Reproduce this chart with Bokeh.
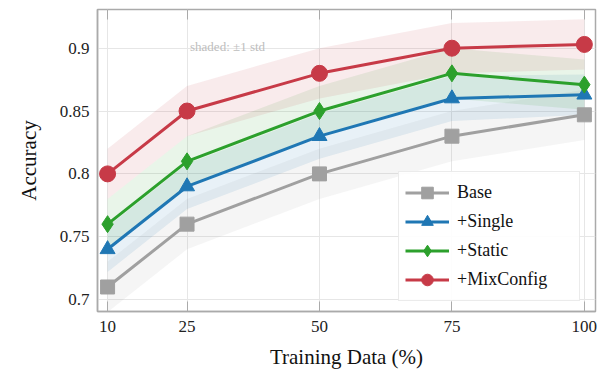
from bokeh.plotting import figure
from bokeh.models import (FixedTicker, Legend, LegendItem, LinearAxis, Range1d,
                          ColumnDataSource, Label)
from bokeh.embed import file_html
from bokeh.resources import INLINE

x_pct = [10, 25, 50, 75, 100]
base = [0.710, 0.760, 0.800, 0.830, 0.847]
single = [0.740, 0.790, 0.830, 0.860, 0.863]
static = [0.760, 0.810, 0.850, 0.880, 0.871]
mixconfig = [0.800, 0.850, 0.880, 0.900, 0.903]
base_std = [0.020, 0.020, 0.020, 0.020, 0.020]
single_std = [0.018, 0.018, 0.018, 0.018, 0.016]
static_std = [0.020, 0.020, 0.020, 0.020, 0.020]
mix_std = [0.020, 0.020, 0.020, 0.020, 0.020]
labels = ["Base", "+Single", "+Static", "+MixConfig"]
y_ticks = [0.7, 0.75, 0.8, 0.85, 0.9]

FONT = "'Liberation Serif', serif"
FONT2 = '"Liberation Serif"'
series = [
    (labels[0], base, base_std, "#a0a0a0", "square", 14),
    (labels[1], single, single_std, "#1f77b4", "triangle", 15),
    (labels[2], static, static_std, "#2ca02c", "diamond", 17),
    (labels[3], mixconfig, mix_std, "#c73a47", "circle", 16),
]

p = figure(width=600, height=371, output_backend="svg", toolbar_location=None,
           x_range=Range1d(8.1, 102.1), y_range=Range1d(0.6905, 0.9308),
           min_border_left=97, min_border_right=5, min_border_top=9,
           min_border_bottom=58)

p.background_fill_color = "white"
p.outline_line_color = "#aaaaaa"
p.outline_line_width = 1.5

p.xaxis.ticker = FixedTicker(ticks=x_pct)
p.yaxis.ticker = FixedTicker(ticks=y_ticks)
p.xaxis.major_label_overrides = {v: str(v) for v in x_pct}
p.yaxis.major_label_overrides = {0.7: "0.7", 0.75: "0.75", 0.8: "0.8", 0.85: "0.85", 0.9: "0.9"}
for ax in (p.xaxis[0], p.yaxis[0]):
    ax.axis_line_color = "#aaaaaa"
    ax.axis_line_width = 1.5
    ax.major_label_text_font = FONT2
    ax.major_label_text_font_size = "17px"
    ax.major_label_text_color = "#222222"
    ax.axis_label_text_font = FONT
    ax.axis_label_text_font_size = "21px"
    ax.axis_label_text_font_style = "normal"
    ax.axis_label_text_color = "#111111"
    ax.minor_tick_line_color = None
    ax.major_tick_line_color = "#aaaaaa"
p.xaxis.major_tick_in = 10
p.xaxis.major_tick_out = 0
p.xaxis.major_label_standoff = 9
p.yaxis.major_tick_in = 0
p.yaxis.major_tick_out = 0
p.yaxis.major_label_standoff = 8
p.xaxis.axis_label = "Training Data (%)"
p.yaxis.axis_label = "Accuracy"
p.xaxis.axis_label_standoff = 10
p.yaxis.axis_label_standoff = 16

top = LinearAxis(ticker=FixedTicker(ticks=x_pct),
                 major_label_overrides={v: "" for v in x_pct},
                 major_tick_in=10, major_tick_out=0, major_tick_line_color="#aaaaaa",
                 minor_tick_line_color=None, axis_line_color=None,
                 major_label_standoff=0)
p.add_layout(top, "above")

p.grid.grid_line_color = "#e6e6e6"
p.grid.grid_line_width = 1

for name, vals, std, col, mk, sz in series:
    lo = [v - s for v, s in zip(vals, std)]
    hi = [v + s for v, s in zip(vals, std)]
    p.varea(x=x_pct, y1=lo, y2=hi, fill_color=col, fill_alpha=0.1)

items = []
for name, vals, std, col, mk, sz in series:
    src = ColumnDataSource(dict(x=x_pct, y=vals))
    ln = p.line("x", "y", source=src, line_color=col, line_width=3)
    sc = p.scatter("x", "y", source=src, marker=mk, size=sz, fill_color=col,
                   line_color=col)
    items.append(LegendItem(label=name, renderers=[ln, sc]))

legend = Legend(items=items, location=(301, 10),
                label_text_font=FONT2, label_text_font_size="18px",
                label_text_color="#111111",
                glyph_width=44, glyph_height=29, spacing=0,
                padding=6, margin=0, label_width=116, label_standoff=8,
                border_line_color="#d8d8d8", border_line_width=1,
                background_fill_alpha=0.9)
p.add_layout(legend)

note = Label(x=25, y=0.9015, x_offset=3, text="shaded: ±1 std",
             text_font=FONT2, text_font_size="13px", text_color="#bdbdbd",
             text_baseline="alphabetic")
p.add_layout(note)

open("out.html", "w").write(file_html(p, INLINE))
